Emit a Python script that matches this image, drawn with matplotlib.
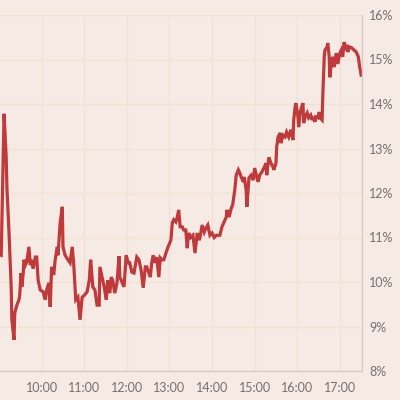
import matplotlib
matplotlib.use("Agg")
import matplotlib.pyplot as plt

# === Data (clock time, rate in %) ===
times = [
    "9:01", "9:03", "9:07", "9:10", "9:11", "9:14", "9:17", "9:18", "9:21", "9:22",
    "9:25", "9:28", "9:29", "9:31", "9:32", "9:34", "9:35", "9:37", "9:39", "9:42",
    "9:44", "9:45", "9:48", "9:51", "9:53", "9:55", "9:58", "10:02", "10:05", "10:07",
    "10:10", "10:12", "10:14", "10:17", "10:19", "10:22", "10:23", "10:26", "10:29", "10:30",
    "10:33", "10:37", "10:40", "10:43", "10:45", "10:48", "10:51", "10:54", "10:57", "11:00",
    "11:04", "11:07", "11:09", "11:12", "11:15", "11:18", "11:21", "11:22", "11:25", "11:28",
    "11:31", "11:33", "11:36", "11:38", "11:40", "11:43", "11:46", "11:49", "11:50", "11:53",
    "11:56", "11:59", "12:02", "12:04", "12:07", "12:10", "12:14", "12:17", "12:20", "12:23",
    "12:26", "12:28", "12:31", "12:33", "12:35", "12:37", "12:40", "12:42", "12:45", "12:47",
    "12:49", "12:52", "12:55", "12:58", "13:01", "13:02", "13:04", "13:06", "13:09", "13:11",
    "13:13", "13:15", "13:18", "13:20", "13:23", "13:25", "13:27", "13:30", "13:33", "13:36",
    "13:39", "13:42", "13:43", "13:46", "13:49", "13:51", "13:54", "13:57", "14:00", "14:03",
    "14:06", "14:08", "14:11", "14:14", "14:17", "14:20", "14:21", "14:24", "14:27", "14:29",
    "14:32", "14:34", "14:37", "14:39", "14:41", "14:44", "14:45", "14:46", "14:48", "14:49",
    "14:52", "14:55", "14:58", "15:00", "15:03", "15:05", "15:07", "15:10", "15:13", "15:16",
    "15:17", "15:20", "15:23", "15:26", "15:27", "15:30", "15:31", "15:33", "15:36", "15:37",
    "15:40", "15:43", "15:45", "15:48", "15:51", "15:54", "15:55", "15:57", "15:58", "16:01",
    "16:02", "16:04", "16:05", "16:08", "16:09", "16:11", "16:14", "16:16", "16:19", "16:21",
    "16:22", "16:25", "16:26", "16:29", "16:31", "16:32", "16:35", "16:36", "16:38", "16:39",
    "16:42", "16:43", "16:45", "16:46", "16:48", "16:50", "16:52", "16:55", "16:56", "16:57",
    "17:00", "17:02", "17:04", "17:06", "17:09", "17:10", "17:11", "17:14", "17:17", "17:20",
    "17:23", "17:26", "17:28", "17:30",
]
rates = [
    10.61, 10.60, 13.78, 12.80, 12.13, 11.10, 9.90, 9.15, 8.70, 9.30,
    9.48, 9.60, 9.70, 10.20, 9.89, 10.20, 10.50, 10.38, 10.45, 10.79,
    10.38, 10.50, 10.30, 10.56, 10.56, 10.04, 9.82, 9.78, 9.60, 9.82,
    9.98, 9.44, 10.34, 10.16, 10.50, 10.79, 10.60, 11.33, 11.69, 10.79,
    10.60, 10.50, 10.43, 10.79, 10.43, 9.60, 9.66, 9.15, 9.66, 9.70,
    9.78, 10.04, 10.50, 9.89, 9.82, 9.48, 9.48, 10.34, 10.11, 9.89,
    9.60, 10.04, 9.75, 10.11, 10.04, 9.75, 9.98, 10.58, 10.11, 10.00,
    9.89, 10.60, 10.43, 10.43, 10.22, 10.20, 10.56, 10.50, 10.27, 9.87,
    10.34, 10.34, 10.20, 10.11, 10.43, 10.60, 10.43, 10.56, 10.11, 10.54,
    10.50, 10.50, 10.65, 10.79, 10.90, 10.94, 11.33, 11.40, 11.35, 11.46,
    11.62, 11.24, 11.24, 11.17, 11.17, 10.76, 11.10, 11.00, 11.05, 10.65,
    11.10, 10.94, 11.00, 11.28, 11.12, 11.20, 11.28, 11.05, 11.10, 11.00,
    11.05, 11.05, 11.05, 11.24, 11.35, 11.46, 11.62, 11.46, 11.66, 11.73,
    12.07, 12.40, 12.52, 12.45, 12.36, 12.25, 12.36, 12.29, 12.07, 11.69,
    12.34, 12.40, 12.29, 12.56, 12.36, 12.25, 12.40, 12.47, 12.56, 12.67,
    12.40, 12.80, 12.67, 12.58, 12.52, 12.67, 13.03, 13.26, 13.35, 13.12,
    13.30, 13.26, 13.37, 13.26, 13.42, 13.19, 13.64, 13.93, 14.02, 13.71,
    13.48, 13.80, 13.87, 14.02, 13.57, 13.71, 13.80, 13.69, 13.75, 13.64,
    13.71, 13.60, 13.71, 13.69, 13.82, 13.69, 13.64, 14.20, 15.06, 15.21,
    15.28, 15.37, 15.06, 14.60, 14.92, 15.06, 14.83, 15.14, 15.00, 14.90,
    15.14, 15.21, 15.06, 15.39, 15.21, 15.33, 15.17, 15.28, 15.26, 15.21,
    15.17, 15.06, 14.83, 14.65,
]
hour_ticks = [10, 11, 12, 13, 14, 15, 16, 17]
pct_ticks = [8, 9, 10, 11, 12, 13, 14, 15, 16]


def to_hours(s):
    h, m = s.split(":")
    return int(h) + int(m) / 60


hours = [to_hours(t) for t in times]

# === Style ===
bg = "#f6eae4"
line_col = "#c0393b"
grid_col = "#efe2d6"
text_col = "#75706d"
plt.rcParams["font.family"] = ["Lato", "DejaVu Sans"]

fig = plt.figure(figsize=(4, 4), dpi=100, facecolor=bg)
ax = fig.add_axes([0.0, 0.0725, 0.905, 0.89])
ax.set_facecolor(bg)

ax.plot(hours, rates, color=line_col, linewidth=2.3, solid_joinstyle="miter")

ax.set_xlim(9 + 1.27 / 60, 9 + 511.2 / 60)
ax.set_ylim(8, 16)
ax.set_xticks(hour_ticks)
ax.set_xticklabels([f"{h}:00" for h in hour_ticks])
ax.set_yticks(pct_ticks)
ax.set_yticklabels([f"{p}%" for p in pct_ticks])
ax.yaxis.tick_right()

ax.grid(True, color=grid_col, linewidth=1)
ax.set_axisbelow(True)
ax.tick_params(axis="both", length=0, colors=text_col, labelsize=9)
ax.tick_params(axis="y", pad=5)
ax.tick_params(axis="x", pad=8)

for side in ("top", "left"):
    ax.spines[side].set_visible(False)
for side in ("right", "bottom"):
    ax.spines[side].set_color("#d6ccc7")
    ax.spines[side].set_linewidth(1)

fig.savefig("out.png", dpi=100, facecolor=bg)
